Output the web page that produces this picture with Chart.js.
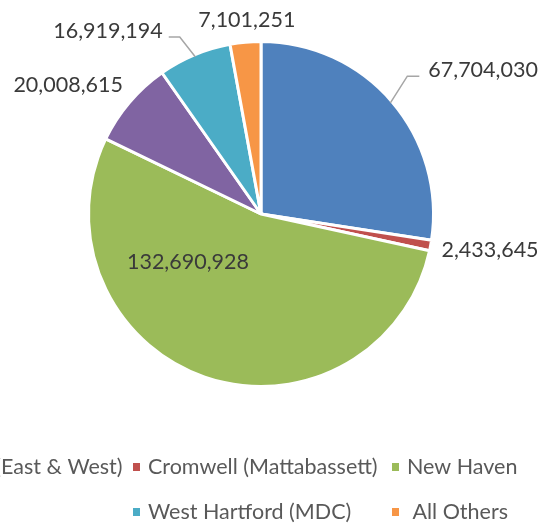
<!DOCTYPE html>
<html><head><meta charset="utf-8">
<script src="https://cdn.jsdelivr.net/npm/chart.js@4"></script>
<style>html,body{margin:0;padding:0;background:#fff;overflow:hidden}#wrap{position:relative;width:542px;height:525px}</style>
</head><body><div id="wrap"><canvas id="c"></canvas></div>
<script>
const categories = ["Bridgeport (East & West)", "Cromwell (Mattabassett)", "New Haven", "Hartford (MDC)", "West Hartford (MDC)", " All Others"];
const values = [67704030, 2433645, 132690928, 20008615, 16919194, 7101251];
const colors = ["#4F81BD", "#C0504D", "#9BBB59", "#8064A2", "#4BACC6", "#F79646"];

// data-label placement relative to each slice: distance (in outer radii) and turn (deg) from slice middle
const labelDist = [1.534, 1.344, 0.507, 1.345, 1.383, 1.128];
const labelTurn = [7.7, -1.6, 37.6, -6.6, -17.2, 1.0];
const labelLeader = ["left", null, null, null, "right", null];

const FONT = "Lato, 'Open Sans', sans-serif";
const fmt = new Intl.NumberFormat('en-US');

const dataLabels = {
  id: 'dataLabels',
  afterDatasetsDraw(chart) {
    const ctx = chart.ctx;
    const meta = chart.getDatasetMeta(0);
    ctx.save();
    ctx.font = "21.5px " + FONT;
    meta.data.forEach((arc, i) => {
      const p = arc.getProps(['x', 'y', 'startAngle', 'endAngle', 'outerRadius'], true);
      const mid = (p.startAngle + p.endAngle) / 2;
      const a = mid + labelTurn[i] * Math.PI / 180;
      const lx = p.x + Math.cos(a) * p.outerRadius * labelDist[i];
      const ly = p.y + Math.sin(a) * p.outerRadius * labelDist[i];
      const text = fmt.format(values[i]);
      const w = ctx.measureText(text).width;
      if (labelLeader[i]) {
        const ax = p.x + Math.cos(mid) * (p.outerRadius - 2);
        const ay = p.y + Math.sin(mid) * (p.outerRadius - 2);
        let ex, bx;
        if (labelLeader[i] === 'left') { ex = lx - w / 2 - 9; bx = ex - 12; }
        else { ex = lx + w / 2 + 6; bx = ex + 11; }
        const ey = ly + 6;
        ctx.beginPath();
        ctx.moveTo(ax, ay); ctx.lineTo(bx, ey); ctx.lineTo(ex, ey);
        ctx.strokeStyle = '#A6A6A6'; ctx.lineWidth = 1.5; ctx.stroke();
      }
      ctx.fillStyle = '#3A3A3A';
      ctx.textAlign = 'center';
      ctx.textBaseline = 'middle';
      ctx.fillText(text, lx, ly);
    });
    ctx.restore();
  }
};

const gridLegend = {
  id: 'gridLegend',
  afterDraw(chart) {
    const ctx = chart.ctx;
    const cols = 4, colW = 259, col0 = 133 - colW;
    const rowY = [467, 512];
    const labels = chart.data.labels;
    const bg = chart.data.datasets[0].backgroundColor;
    ctx.save();
    ctx.font = "21.5px " + FONT;
    ctx.textBaseline = 'middle';
    ctx.textAlign = 'left';
    let idx = 0, row = 0;
    while (idx < labels.length) {
      const n = Math.min(cols, labels.length - idx);
      const off = (cols - n) / 2;
      for (let k = 0; k < n; k++, idx++) {
        const mx = col0 + (off + k) * colW;
        const y = rowY[row];
        ctx.fillStyle = bg[idx];
        ctx.fillRect(mx, y - 4, 7, 8);
        ctx.fillStyle = '#595959';
        ctx.fillText(labels[idx], mx + 15, y);
      }
      row++;
    }
    ctx.restore();
  }
};

new Chart(document.getElementById('c'), {
  type: 'pie',
  data: {
    labels: categories,
    datasets: [{
      data: values,
      backgroundColor: colors,
      borderColor: '#FFFFFF',
      borderWidth: 3,
      hoverBorderWidth: 3,
      hoverOffset: 0
    }]
  },
  options: {
    responsive: true,
    maintainAspectRatio: false,
    animation: false,
    layout: { padding: { left: 87, top: 40, right: 107, bottom: 137 } },
    plugins: { legend: { display: false }, tooltip: { enabled: false } }
  },
  plugins: [dataLabels, gridLegend]
});
</script>
</body></html>
